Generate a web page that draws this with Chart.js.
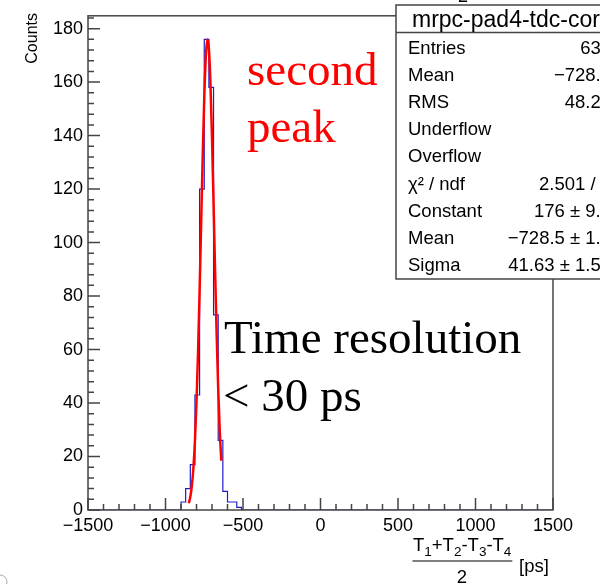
<!DOCTYPE html>
<html><head><meta charset="utf-8">
<script src="https://cdn.jsdelivr.net/npm/chart.js@4"></script>
<style>html,body{margin:0;padding:0;background:#fff}canvas{display:block}</style>
</head><body>
<canvas id="c" width="600" height="584"></canvas>
<script>
// ---- data ----
const binWidth = 30;
const binLowEdges = [-900,-870,-840,-810,-780,-750,-720,-690,-660,-630,-600,-570,-540];
const binCounts   = [3, 8, 17, 43, 120, 176, 158, 73, 26, 7, 3, 3, 1];
const fitX = [-850,-840,-830,-820,-810,-800,-790,-780,-770,-760,-750,-740,-730,-720,-710,-700,-690,-680,-670,-660,-650,-640];
const fitY = [2.5,4.9,9.0,15.7,25.9,40.3,59.1,81.9,107.1,132.2,154.0,169.4,175.9,172.4,159.5,139.2,114.8,89.3,65.6,45.4,29.7,18.4];
const xTickValues = [-1500,-1000,-500,0,500,1000,1500];
const yTickValues = [0,20,40,60,80,100,120,140,160,180];
const statsTitle = "mrpc-pad4-tdc-cor";
const statsLabels = ["Entries","Mean","RMS","Underflow","Overflow","\u03c7\u00b2 / ndf","Constant","Mean","Sigma"];
const statsValues = ["638","\u2212728.6","48.25","0","0","2.501 / 5","176 \u00b1 9.3","\u2212728.5 \u00b1 1.9","41.63 \u00b1 1.55"];

const SANS = "'Liberation Sans', Arial, Helvetica, sans-serif";
const SERIF = "'Liberation Serif', 'Times New Roman', serif";
const fmt = v => v < 0 ? '\u2212' + Math.abs(v) : String(v);

const histPts = [{x:-1500, y:0}];
binLowEdges.forEach((e,i) => histPts.push({x:e, y:binCounts[i]}));
histPts.push({x: binLowEdges[binLowEdges.length-1] + binWidth, y:0});
histPts.push({x:1500, y:0});
const fitPts = fitX.map((x,i) => ({x, y: fitY[i]}));

const decor = {
  id: 'decor',
  afterDraw(chart) {
    const ctx = chart.ctx, xs = chart.scales.x, ys = chart.scales.y, a = chart.chartArea;
    ctx.save();
    // frame
    ctx.strokeStyle = '#444'; ctx.lineWidth = 1.5;
    ctx.strokeRect(a.left, a.top, a.right - a.left, a.bottom - a.top);
    ctx.beginPath();
    for (let v = 0; v <= 184; v += 4) {
      const y = ys.getPixelForValue(v), len = v % 20 === 0 ? 12 : 6;
      ctx.moveTo(a.left, y); ctx.lineTo(a.left + len, y);
    }
    for (let v = -1500; v <= 1500; v += 100) {
      const x = xs.getPixelForValue(v), len = v % 500 === 0 ? 12 : 6;
      ctx.moveTo(x, a.bottom); ctx.lineTo(x, a.bottom - len);
    }
    ctx.stroke();

    // stats box
    const bx = 396, by = 5, bw = 240, bh = 274;
    ctx.fillStyle = '#fff'; ctx.fillRect(bx, by, bw, bh);
    ctx.strokeStyle = '#444'; ctx.lineWidth = 1.5;
    ctx.strokeRect(bx, by, bw, bh);
    ctx.beginPath(); ctx.moveTo(bx, 32.5); ctx.lineTo(bx + bw, 32.5); ctx.stroke();
    ctx.fillStyle = '#000'; ctx.textBaseline = 'alphabetic';
    ctx.font = '23px ' + SANS; ctx.textAlign = 'left';
    ctx.fillText(statsTitle, 412, 26.5);
    ctx.font = '18.5px ' + SANS;
    statsLabels.forEach((l, i) => {
      const y = 53.5 + 27.2 * i;
      ctx.textAlign = 'left'; ctx.fillText(l, 408, y);
      ctx.textAlign = 'right'; ctx.fillText(statsValues[i], 611, y);
    });
    // remnant glyph at top
    ctx.textAlign = 'center'; ctx.font = '18px ' + SANS; ctx.fillText('2', 463, 2);

    // y-axis title
    ctx.save();
    ctx.translate(33, 13); ctx.rotate(-Math.PI / 2);
    ctx.font = '16px ' + SANS; ctx.textAlign = 'right'; ctx.textBaseline = 'middle';
    ctx.fillText('Counts', 0, 0);
    ctx.restore();

    // x-axis title (fraction)
    ctx.textAlign = 'left'; ctx.textBaseline = 'alphabetic';
    let x = 413;
    const parts = [['T',0],['1',1],['+',0],['T',0],['2',1],['-',0],['T',0],['3',1],['-',0],['T',0],['4',1]];
    parts.forEach(([t, sub]) => {
      ctx.font = (sub ? '13.5px ' : '18.5px ') + SANS;
      ctx.fillText(t, x, sub ? 556 : 551);
      x += ctx.measureText(t).width;
    });
    ctx.strokeStyle = '#000'; ctx.lineWidth = 1.2;
    ctx.beginPath(); ctx.moveTo(412.5, 561); ctx.lineTo(x + 1, 561); ctx.stroke();
    ctx.font = '18.5px ' + SANS; ctx.textAlign = 'center';
    ctx.fillText('2', (412.5 + x) / 2, 583);
    ctx.textAlign = 'left'; ctx.fillText('[ps]', 519, 572);

    // annotations
    ctx.font = '47px ' + SERIF; ctx.fillStyle = '#ff0000'; ctx.textAlign = 'left';
    ctx.fillText('second', 247, 85);
    ctx.fillText('peak', 247, 142);
    ctx.fillStyle = '#000';
    ctx.fillText('Time resolution', 224, 353);
    ctx.fillText('< 30 ps', 223, 411);

    // corner remnant
    ctx.strokeStyle = '#aaa'; ctx.lineWidth = 1;
    ctx.beginPath(); ctx.arc(0, 582, 7, -Math.PI / 2, Math.PI / 2); ctx.stroke();
    ctx.restore();
  }
};

new Chart(document.getElementById('c'), {
  type: 'scatter',
  data: { datasets: [
    { label: 'fit', data: fitPts, showLine: true, borderColor: '#ff0000', borderWidth: 2.5,
      pointRadius: 0, cubicInterpolationMode: 'monotone', order: 0 },
    { label: 'hist', data: histPts, showLine: true, stepped: 'before', borderColor: 'rgb(30,30,200)',
      borderWidth: 1.2, pointRadius: 0, order: 1 }
  ]},
  options: {
    responsive: false, animation: false, devicePixelRatio: 1,
    layout: { padding: { left: 0, right: 47, top: 14, bottom: 0 } },
    plugins: { legend: { display: false }, tooltip: { enabled: false } },
    scales: {
      x: { type: 'linear', min: -1500, max: 1500,
        afterBuildTicks: s => { s.ticks = xTickValues.map(v => ({ value: v })); },
        afterFit: s => { s.height = 74; },
        ticks: { font: { family: SANS, size: 18 }, color: '#000', padding: 5, maxRotation: 0, autoSkip: false, callback: v => fmt(v) },
        grid: { display: false, drawTicks: false }, border: { display: false } },
      y: { type: 'linear', min: 0, max: 184.8,
        afterBuildTicks: s => { s.ticks = yTickValues.map(v => ({ value: v })); },
        afterFit: s => { s.width = 88; },
        ticks: { font: { family: SANS, size: 18 }, color: '#000', padding: 5, autoSkip: false, callback: v => fmt(v) },
        grid: { display: false, drawTicks: false }, border: { display: false } }
    }
  },
  plugins: [decor]
});
</script>
</body></html>
